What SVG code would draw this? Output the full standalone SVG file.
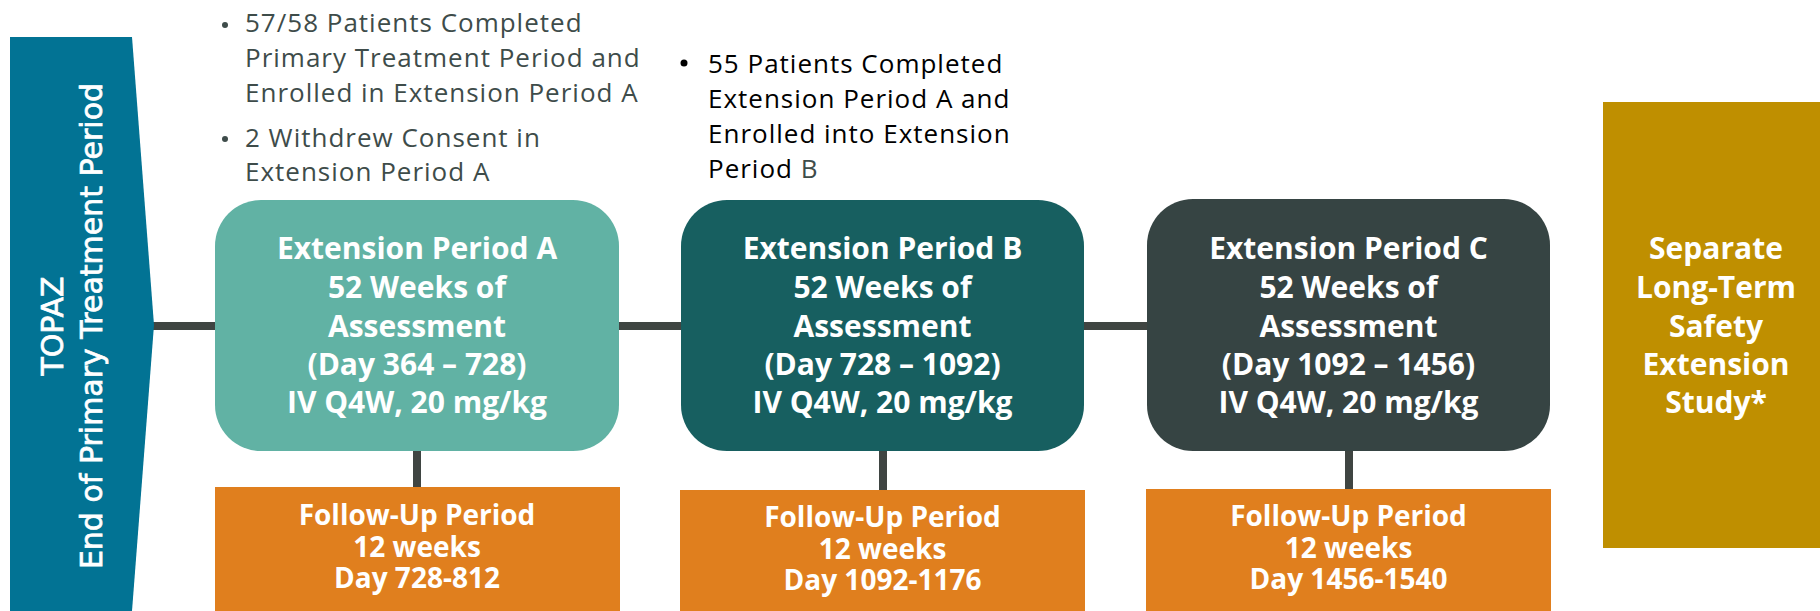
<svg xmlns="http://www.w3.org/2000/svg" width="1820" height="611" viewBox="0 0 1820 611">
<style>
.bt{font-family:"Open Sans","Noto Sans","Liberation Sans",sans-serif;font-size:26px;letter-spacing:1px}
.g{fill:#3E4C4A}
.k{fill:#000000}
.bx{font-family:"Open Sans","Noto Sans","Liberation Sans",sans-serif;font-size:30px;font-weight:700;fill:#ffffff;text-anchor:middle}
.fu{font-family:"Open Sans","Noto Sans","Liberation Sans",sans-serif;font-size:28px;font-weight:700;fill:#ffffff;text-anchor:middle}
.bn{font-family:"DejaVu Sans","Liberation Sans",sans-serif;font-size:30px;fill:#ffffff;stroke:#ffffff;stroke-width:0.7;text-anchor:middle}
.conn{stroke:#3F4542;stroke-width:8;fill:none}
.orange{fill:#E07F1E}
</style>
<rect width="1820" height="611" fill="#ffffff"/>

<g id="connectors">
  <line class="conn" x1="150" y1="326" x2="218" y2="326"/>
  <line class="conn" x1="616" y1="326" x2="684" y2="326"/>
  <line class="conn" x1="1081" y1="326" x2="1150" y2="326"/>
  <line class="conn" x1="417" y1="448" x2="417" y2="490"/>
  <line class="conn" x1="883" y1="448" x2="883" y2="492"/>
  <line class="conn" x1="1349" y1="448" x2="1349" y2="491"/>
</g>

<g id="banner">
  <polygon points="10,37 132,37 154,325 132,611 10,611" fill="#027394"/>
  <text class="bn" transform="translate(63,326) rotate(-90)">TOPAZ</text>
  <text class="bn" transform="translate(102,326) rotate(-90)">End of Primary Treatment Period</text>
</g>

<g id="note-a">
  <circle class="g" cx="225" cy="25" r="3"/>
  <text class="bt g" x="245" y="32">57/58 Patients Completed</text>
  <text class="bt g" x="245" y="67">Primary Treatment Period and</text>
  <text class="bt g" x="245" y="102">Enrolled in Extension Period A</text>
  <circle class="g" cx="225" cy="139" r="3"/>
  <text class="bt g" x="245" y="147">2 Withdrew Consent in</text>
  <text class="bt g" x="245" y="181">Extension Period A</text>
</g>

<g id="note-b">
  <circle class="k" cx="684" cy="63" r="3.5"/>
  <text class="bt k" x="708" y="73">55 Patients Completed</text>
  <text class="bt k" x="708" y="108">Extension Period A and</text>
  <text class="bt k" x="708" y="143">Enrolled into Extension</text>
  <text class="bt k" x="708" y="178">Period <tspan class="g">B</tspan></text>
</g>

<g id="ext-a">
  <rect x="215" y="200" width="404" height="251" rx="46" fill="#61B2A4"/>
  <text class="bx" x="417" y="259">Extension Period A</text>
  <text class="bx" x="417" y="298">52 Weeks of</text>
  <text class="bx" x="417" y="337">Assessment</text>
  <text class="bx" x="417" y="375">(Day 364 – 728)</text>
  <text class="bx" x="417" y="413">IV Q4W, 20 mg/kg</text>
</g>

<g id="ext-b">
  <rect x="681" y="200" width="403" height="251" rx="46" fill="#175F60"/>
  <text class="bx" x="882.5" y="259">Extension Period B</text>
  <text class="bx" x="882.5" y="298">52 Weeks of</text>
  <text class="bx" x="882.5" y="337">Assessment</text>
  <text class="bx" x="882.5" y="375">(Day 728 – 1092)</text>
  <text class="bx" x="882.5" y="413">IV Q4W, 20 mg/kg</text>
</g>

<g id="ext-c">
  <rect x="1147" y="199" width="403" height="252" rx="46" fill="#364443"/>
  <text class="bx" x="1348.5" y="259">Extension Period C</text>
  <text class="bx" x="1348.5" y="298">52 Weeks of</text>
  <text class="bx" x="1348.5" y="337">Assessment</text>
  <text class="bx" x="1348.5" y="375">(Day 1092 – 1456)</text>
  <text class="bx" x="1348.5" y="413">IV Q4W, 20 mg/kg</text>
</g>

<g id="fu-a">
  <rect class="orange" x="215" y="487" width="405" height="124"/>
  <text class="fu" x="417" y="525">Follow-Up Period</text>
  <text class="fu" x="417" y="557">12 weeks</text>
  <text class="fu" x="417" y="588">Day 728-812</text>
</g>

<g id="fu-b">
  <rect class="orange" x="680" y="490" width="405" height="121"/>
  <text class="fu" x="882.5" y="527">Follow-Up Period</text>
  <text class="fu" x="882.5" y="559">12 weeks</text>
  <text class="fu" x="882.5" y="590">Day 1092-1176</text>
</g>

<g id="fu-c">
  <rect class="orange" x="1146" y="489" width="405" height="122"/>
  <text class="fu" x="1348.5" y="526">Follow-Up Period</text>
  <text class="fu" x="1348.5" y="558">12 weeks</text>
  <text class="fu" x="1348.5" y="589">Day 1456-1540</text>
</g>

<g id="separate">
  <rect x="1603" y="102" width="217" height="446" fill="#BF8F00"/>
  <text class="bx" x="1716" y="259">Separate</text>
  <text class="bx" x="1716" y="298">Long-Term</text>
  <text class="bx" x="1716" y="337">Safety</text>
  <text class="bx" x="1716" y="375">Extension</text>
  <text class="bx" x="1716" y="413">Study*</text>
</g>
</svg>
